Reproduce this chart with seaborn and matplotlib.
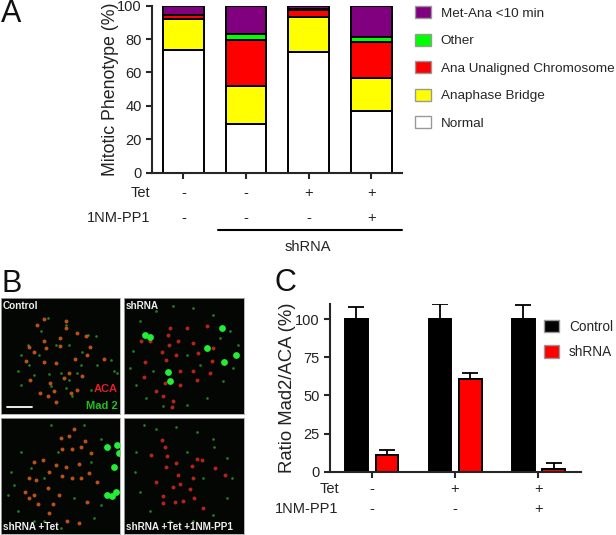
import matplotlib
matplotlib.use("Agg")
import matplotlib.pyplot as plt
import pandas as pd
import seaborn as sns

W, H = 616, 535

# Panel A, stacked percentages
conditions = ["ctrl", "sh", "sh_tet", "sh_tet_pp1"]
normal = [73.5, 29, 72, 37]
bridge = [18.5, 23, 21, 20]
unaligned = [2.5, 27.5, 4.5, 21]
other = [0, 3.5, 0.5, 3]
met_ana = [5.5, 17, 2, 19]
a_tet = ["-", "-", "+", "+"]
a_pp1 = ["-", "-", "-", "+"]

# Panel C
c_groups = ["a", "b", "c"]
c_control = [100, 100, 100]
c_control_err = [8, 10, 9.5]
c_shrna = [11, 61, 2]
c_shrna_err = [3, 4, 3.5]
c_tet = ["-", "+", "+"]
c_pp1 = ["-", "-", "+"]

# Panel B, spots
p1_red = [(130,162),(108,182),(195,168),(197,190),(230,205),(177,220),(130,228),(84,247),(100,262),(135,250),
          (178,245),(268,248),(258,272),(222,282),(130,293),(165,295),(75,290),(205,325),(245,335),(190,340),
          (88,345),(148,355),(118,385),(158,378),(140,395),(210,385),(228,375),(165,412),(310,283),(255,215)]
p1_green = [(285,215),(262,212),(205,240),(245,262),(85,300),(145,328),(180,325),(230,325),(205,345),(60,360),
            (115,272),(240,300),(195,370),(140,160),(195,180),(80,240),(60,270),(340,320),(350,325),(330,285),
            (100,330),(150,365),(215,395),(270,375),(120,200),(165,240),(290,300),(50,320)]
p2_red = [(510,190),(560,190),(620,185),(505,210),(535,228),(578,235),(425,230),(450,228),(508,240),(488,263),
          (640,250),(530,270),(595,265),(435,292),(500,285),(635,290),(540,318),(580,320),(630,325),(497,355),
          (540,362),(470,380),(520,410),(518,428),(490,395),(432,338),(590,345)]
p2_bright = [(437,211),(665,189),(620,250),(707,272),(672,293),(505,322),(511,348),(452,218)]
p2_green = [(420,170),(470,140),(520,125),(580,130),(640,150),(690,200),(715,240),(400,260),(390,310),(410,360),
            (440,400),(490,425),(560,420),(620,400),(670,350),(700,310),(560,270),(600,300),(460,320),(660,220)]
p3_red = [(220,490),(205,512),(180,517),(252,528),(240,545),(185,553),(215,553),(270,565),(165,600),(195,605),
          (235,598),(145,620),(100,590),(125,585),(185,632),(105,645),(85,640),(215,640),(265,625),(288,650),
          (140,670),(72,680),(100,690),(175,690),(260,712),(155,718),(110,718),(145,745),(235,775),(200,770),
          (85,700),(240,640)]
p3_bright = [(318,545),(340,605),(335,693),(350,540),(355,565),(318,690),(345,680)]
p3_green = [(150,480),(250,480),(300,520),(60,560),(30,620),(20,690),(50,740),(100,770),(180,790),(280,760),
            (300,720),(220,700),(130,640),(170,560),(90,610),(270,590),(40,660),(130,770)]
p4_red = [(488,525),(455,570),(503,573),(495,545),(530,595),(575,603),(605,585),(590,582),(645,608),(500,605),
          (535,630),(540,658),(570,672),(580,640),(470,650),(490,693),(490,715),(525,710),(550,707),(582,700),
          (610,730),(675,630),(520,665)]
p4_green = [(643,545),(432,480),(470,490),(530,485),(590,500),(640,520),(680,580),(695,640),(680,700),(640,750),
            (580,770),(510,770),(450,740),(420,680),(405,620),(410,560),(610,640),(560,560)]

black = "black"
sns.set_style("ticks")
plt.rcParams["font.family"] = ["Liberation Sans", "DejaVu Sans"]
fig = plt.figure(figsize=(W / 100, H / 100), dpi=100)


def px_axes(left, top, right, bottom):
    return fig.add_axes([left / W, 1 - bottom / H, (right - left) / W, (bottom - top) / H])


def px_text(x, y, s, **kw):
    kw.setdefault("va", "center")
    kw.setdefault("color", "#222222")
    fig.text(x / W, 1 - y / H, s, **kw)


def style_axis(ax):
    sns.despine(ax=ax)
    for side in ["left", "bottom"]:
        ax.spines[side].set_linewidth(1.5)
    ax.tick_params(width=1.5, length=4, labelsize=10.5, labelcolor="#222222")
    ax.set_xlabel("")
    ax.set_xticklabels([])


# ---- A
ax_a = px_axes(152, 5.7, 401.6, 172.7)
layers = [("Normal", normal, "white"), ("Anaphase Bridge", bridge, "#ffff00"),
          ("Ana Unaligned Chromosome", unaligned, "#ff0000"), ("Other", other, "#00ff00"),
          ("Met-Ana <10 min", met_ana, "#800080")]
base = [0, 0, 0, 0]
for name, vals, col in layers:
    sns.barplot(x=conditions, y=vals, bottom=base, color=col, saturation=1, width=0.65,
                edgecolor=black, linewidth=1.4, label=name, ax=ax_a, legend=False)
    base = [b + v for b, v in zip(base, vals)]
ax_a.set_xlim(-0.5, 3.48)
ax_a.set_ylim(0, 100)
ax_a.set_yticks([0, 20, 40, 60, 80, 100])
style_axis(ax_a)
ax_a.set_ylabel("Mitotic Phenotype (%)", fontsize=12.8, color="#222222", labelpad=-1.5)
handles, labels = ax_a.get_legend_handles_labels()
leg = ax_a.legend(handles[::-1], labels[::-1], loc="upper left", bbox_to_anchor=(411 / W, 1 - 2 / H),
                  bbox_transform=fig.transFigure, frameon=False, fontsize=9.7, handlelength=1.19,
                  handleheight=1.0, labelspacing=1.03, handletextpad=0.72, borderaxespad=0, borderpad=0.3)
for patch in leg.get_patches():
    patch.set_edgecolor("#999999")
    patch.set_linewidth(1)
for i, (t, p) in enumerate(zip(a_tet, a_pp1)):
    xp = 183.5 + 62.6 * i
    px_text(xp, 192.7, t, ha="center", fontsize=10.5)
    px_text(xp, 218, p, ha="center", fontsize=10.5)
px_text(150.5, 192.7, "Tet", ha="right", fontsize=10.5)
px_text(150, 218, "1NM-PP1", ha="right", fontsize=10.5)
fig.add_artist(plt.Line2D([218 / W, 401.6 / W], [1 - 230 / H] * 2, color=black, lw=1.5))
px_text(307.6, 247, "shRNA", ha="center", fontsize=10.5)

# ---- B
panels = [(1, 298, 120, 414, 0, 358, 100, 448, p1_red, p1_green, [], "#cf5a1c"),
          (124, 298, 244, 414, 373, 732, 100, 448, p2_red, p2_green, p2_bright, "#c8281a"),
          (1, 418, 120, 534, 0, 358, 458, 808, p3_red, p3_green, p3_bright, "#cf5a1c"),
          (124, 418, 244, 534, 373, 732, 458, 808, p4_red, p4_green, [], "#c8281a")]
for left, top, right, bottom, x0, x1, y0, y1, reds, greens, brights, red_col in panels:
    ax = px_axes(left, top, right, bottom)
    ax.set_facecolor("#040604")
    for pts, col, size, alpha in [(greens, "#2a902a", 3.5, 0.9), (reds, red_col, 8, 0.9), (brights, "#22ee33", 24, 1)]:
        if pts:
            df = pd.DataFrame(pts, columns=["x", "y"])
            sns.scatterplot(data=df, x="x", y="y", color=col, s=size, alpha=alpha, linewidth=0, ax=ax)
    ax.set_xlim(x0, x1)
    ax.set_ylim(y1, y0)
    ax.set_xticks([])
    ax.set_yticks([])
    ax.set_xlabel("")
    ax.set_ylabel("")
    for sp in ax.spines.values():
        sp.set_color("#aaaaaa")
        sp.set_linewidth(0.6)
panel_font = dict(color="#eeeeee", fontweight="bold", fontsize=7.2)
px_text(3, 306, "Control", **panel_font)
px_text(126, 306, "shRNA", **panel_font)
px_text(3, 527, "shRNA +Tet", **panel_font)
px_text(126, 527, "shRNA +Tet +1NM-PP1", **panel_font)
px_text(118, 389, "ACA", ha="right", color="#e02020", fontweight="bold", fontsize=8)
px_text(118, 406, "Mad 2", ha="right", color="#20c020", fontweight="bold", fontsize=8)
fig.add_artist(plt.Line2D([7 / W, 32 / W], [1 - 407 / H] * 2, color="white", lw=1.3))

# ---- C
ax_c = px_axes(330, 304, 581, 471.7)
c_df = pd.DataFrame({"group": c_groups * 2, "val": c_control + c_shrna,
                     "kind": ["Control"] * 3 + ["shRNA"] * 3})
sns.barplot(data=c_df, x="group", y="val", hue="kind", palette=[black, "#ff0000"], saturation=1,
            width=0.73, gap=0.26, edgecolor=black, linewidth=1.4, ax=ax_c)
for cont, err in zip(ax_c.containers, [c_control_err, c_shrna_err]):
    for bar, e in zip(cont, err):
        ax_c.errorbar(bar.get_x() + bar.get_width() / 2, bar.get_height(), yerr=[[0], [e]],
                      fmt="none", ecolor=black, elinewidth=1.3, capsize=5.5, capthick=1.3)
ax_c.set_xlim(-0.5, 2.51)
ax_c.set_ylim(0, 110)
ax_c.set_yticks([0, 25, 50, 75, 100])
style_axis(ax_c)
ax_c.set_ylabel("Ratio Mad2/ACA (%)", fontsize=13.3, color="#222222", labelpad=-0.5)
leg = ax_c.legend(loc="upper left", bbox_to_anchor=(541 / W, 1 - 317 / H), bbox_transform=fig.transFigure,
                  frameon=False, fontsize=9.8, title=None, handlelength=1.15, handleheight=1.05,
                  labelspacing=0.85, handletextpad=0.7, borderaxespad=0, borderpad=0.2)
for patch in leg.get_patches():
    patch.set_edgecolor("#999999")
    patch.set_linewidth(1)
for i, (t, p) in enumerate(zip(c_tet, c_pp1)):
    xp = 371.7 + 83.3 * i
    px_text(xp, 489, t, ha="center", fontsize=10.5)
    px_text(xp, 509, p, ha="center", fontsize=10.5)
px_text(339, 489, "Tet", ha="right", fontsize=10.5)
px_text(338, 509, "1NM-PP1", ha="right", fontsize=10.5)

px_text(1, 13.5, "A", fontsize=22, color="#111111")
px_text(1, 284, "B", fontsize=22, color="#111111")
px_text(274, 283, "C", fontsize=22, color="#111111")

fig.savefig("out.png", dpi=100)
